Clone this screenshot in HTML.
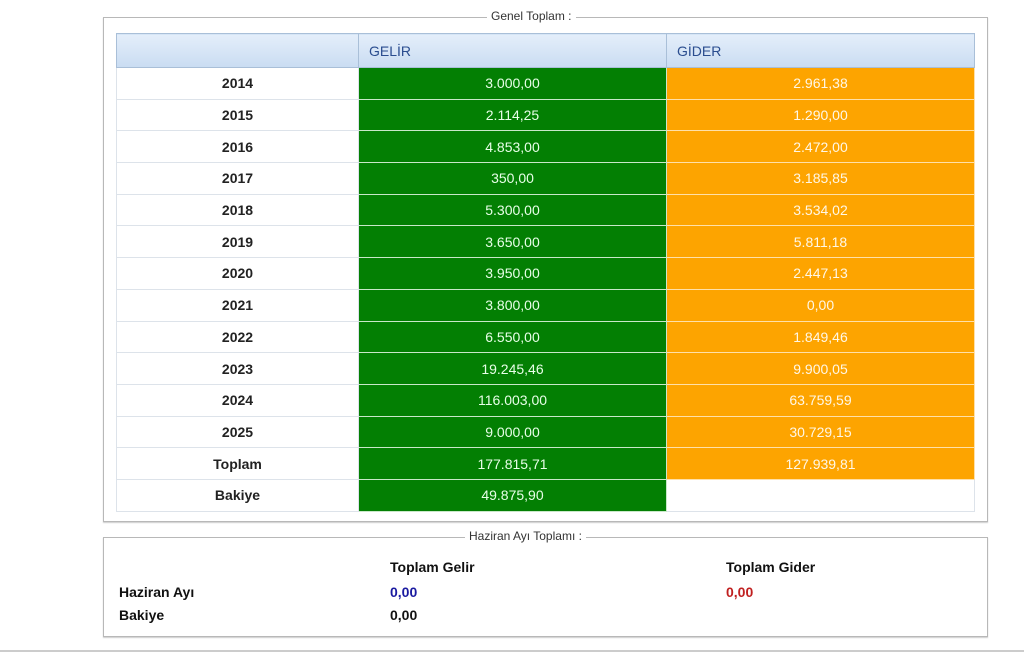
<!DOCTYPE html>
<html><head><meta charset="utf-8"><style>
body{margin:0;width:1024px;height:661px;background:#fff;position:relative;font-family:"Liberation Sans",sans-serif;overflow:hidden}
.box{position:absolute;border:1px solid #b8b8b8;box-shadow:0 1px 1px #ccc}
.legend{position:absolute;background:#fff;padding:0 4px;font-size:12px;color:#333;top:-9px}
table{position:absolute;left:116px;top:33px;border-collapse:collapse;table-layout:fixed;font-size:14px}
td{height:31.7px;padding:0;text-align:center;border:1px solid #dde3ea;box-sizing:border-box;line-height:16px}
th{height:34px;box-sizing:border-box;padding:0 0 0 10px;background:linear-gradient(#e4eefa,#c9dcf2);color:#2a4d8f;font-weight:normal;text-align:left;border:1px solid #a9bfd8;font-size:14px;line-height:16px}
td.y{font-weight:bold;color:#222;background:#fff}
td.g{background:#037f03;color:#e8ffe8;border-color:#c9e8c9}
td.o{background:#fda400;color:#fff7e6;border-color:#ffe0a8}
.t{position:absolute;font-size:14px;font-weight:bold;color:#111}
</style></head><body>
<div class="box" style="left:103px;top:17px;width:883px;height:503px">
<span class="legend" style="left:383px">Genel Toplam :</span></div>
<table>
<colgroup><col style="width:242px"><col style="width:308px"><col style="width:308px"></colgroup>
<thead><tr><th></th><th>GELİR</th><th>GİDER</th></tr></thead>
<tbody id="tb"></tbody></table>
<div class="box" style="left:103px;top:537px;width:883px;height:98px">
<span class="legend" style="left:361px">Haziran Ayı Toplamı :</span></div>
<div class="t" style="left:390px;top:559px">Toplam Gelir</div>
<div class="t" style="left:726px;top:559px">Toplam Gider</div>
<div class="t" style="left:119px;top:584px">Haziran Ayı</div>
<div class="t" style="left:390px;top:584px;color:#1a1aa0">0,00</div>
<div class="t" style="left:726px;top:584px;color:#c02020">0,00</div>
<div class="t" style="left:119px;top:607px">Bakiye</div>
<div class="t" style="left:390px;top:607px">0,00</div>
<div style="position:absolute;left:0;top:650px;width:1024px;height:2px;background:#ccc"></div>
<script>
const years=["2014","2015","2016","2017","2018","2019","2020","2021","2022","2023","2024","2025","Toplam","Bakiye"];
const gelir=["3.000,00","2.114,25","4.853,00","350,00","5.300,00","3.650,00","3.950,00","3.800,00","6.550,00","19.245,46","116.003,00","9.000,00","177.815,71","49.875,90"];
const gider=["2.961,38","1.290,00","2.472,00","3.185,85","3.534,02","5.811,18","2.447,13","0,00","1.849,46","9.900,05","63.759,59","30.729,15","127.939,81",""];
const tb=document.getElementById('tb');
years.forEach((y,i)=>{
 const tr=document.createElement('tr');
 
 
 const a=document.createElement('td');a.className='y';a.textContent=y;
 
 
 const b=document.createElement('td');b.className='g';b.textContent=gelir[i];
 
 
 const c=document.createElement('td');c.className=gider[i]?'o':'';c.textContent=gider[i];
 
 
 tr.append(a,b,c);tb.appendChild(tr);
});
</script>
</body></html>
